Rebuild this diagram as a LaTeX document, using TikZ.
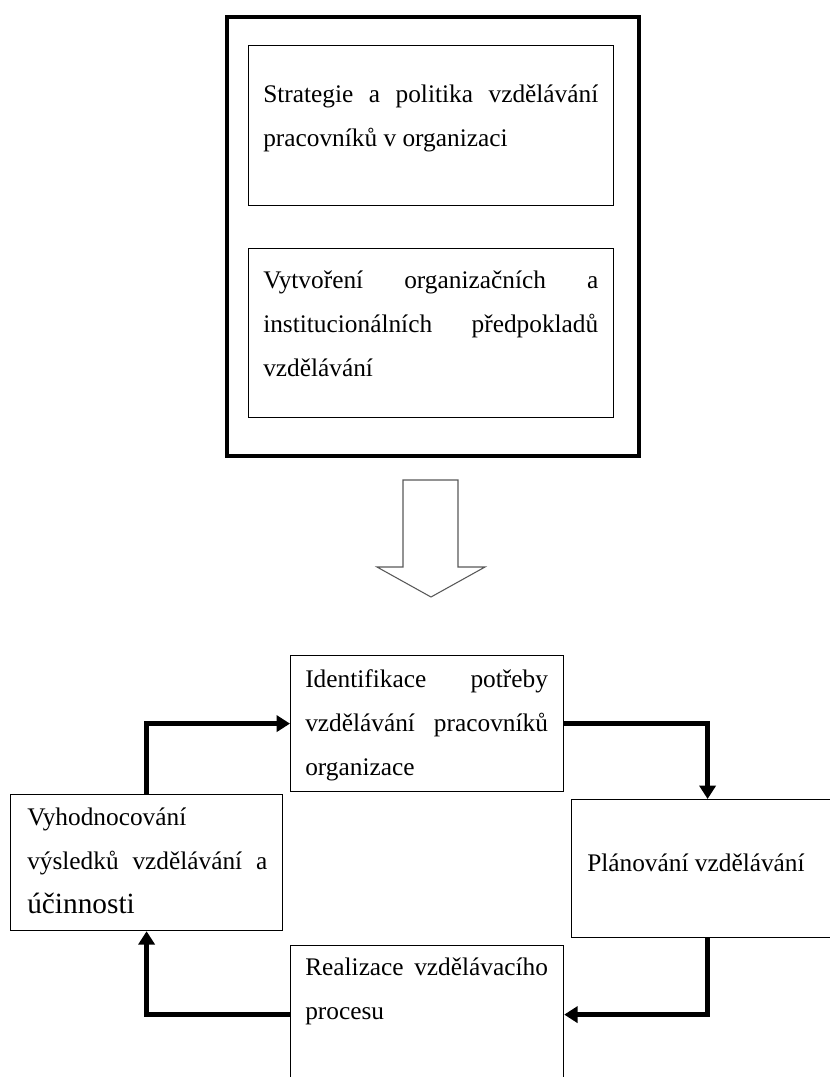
\documentclass[tikz,border=0pt]{standalone}
\usepackage{fontspec}
\setmainfont{Liberation Serif}
\usetikzlibrary{arrows.meta}

\begin{document}
\begin{tikzpicture}[
				x=0.75pt, y=-0.75pt,
				every node/.style={inner sep=0pt},
				frame/.style={draw, line width=2.8pt, anchor=north west},
				box/.style={draw, line width=0.9pt, anchor=north west},
				txt/.style={align=justify, anchor=base west, font=\fontsize{19pt}{33pt}\selectfont},
				flow/.style={-{Triangle[width=12pt,length=10pt]}, line width=3.4pt},
				hollow/.style={draw=black!65, line width=0.8pt, fill=white}
				]
				\useasboundingbox (0,0) rectangle (830,1077);
				\clip (0,0) rectangle (830,1077);
				
				% upper block
				\node[frame, minimum width=309pt, minimum height=329.25pt] (outer) at (225,15) {};
				\node[box, minimum width=273.75pt, minimum height=120pt] (strat) at (248,45) {};
				\node[box, minimum width=273.75pt, minimum height=126.75pt] (vytv) at (248,248) {};
				\node[txt, text width=251.25pt] (strat-t) at ([shift={(15,58)}]strat.north west)
					{Strategie a politika vzdělávání\linebreak pracovníků v organizaci};
				\node[txt, text width=251.25pt] (vytv-t) at ([shift={(15,40)}]vytv.north west)
					{Vytvoření organizačních a\linebreak institucionálních předpokladů\linebreak vzdělávání};
				
				% big arrow
				\coordinate (down) at (431,480);
				\draw[hollow] ([shift={(-28,0)}]down) -- ([shift={(27,0)}]down) -- ++(0,87) -- ++(27,0)
					-- ++(-54,30) -- ++(-54,-30) -- ++(26,0) -- cycle;
				
				% cycle
				\node[box, minimum width=204.75pt, minimum height=102pt] (ident) at (290,655) {};
				\node[box, minimum width=204pt, minimum height=103.5pt] (plan) at (571,799) {};
				\node[box, minimum width=204.75pt, minimum height=103.5pt] (real) at (290,945) {};
				\node[box, minimum width=204pt, minimum height=102pt] (vyh) at (10,794) {};
				
				\node[txt, text width=182pt] (ident-t) at ([shift={(15,32)}]ident.north west)
					{Identifikace potřeby\linebreak vzdělávání pracovníků\linebreak organizace};
				\node[txt, text width=170pt] (plan-t) at ([shift={(16,72)}]plan.north west)
					{Plánování vzdělávání};
				\node[txt, text width=182pt] (real-t) at ([shift={(15,30)}]real.north west)
					{Realizace vzdělávacího\linebreak procesu};
				\node[txt, text width=180pt] (vyh-t) at ([shift={(17,31)}]vyh.north west)
					{Vyhodnocování\linebreak výsledků vzdělávání a\linebreak {\fontsize{22pt}{33pt}\selectfont účinnosti}};
				
				\draw[flow] (vyh.north) |- (ident.west);
				\draw[flow] (ident.east) -| (plan.north);
				\draw[flow] (plan.south) |- (real.east);
				\draw[flow] (real.west) -| (vyh.south);
				\end{tikzpicture}
\end{document}
